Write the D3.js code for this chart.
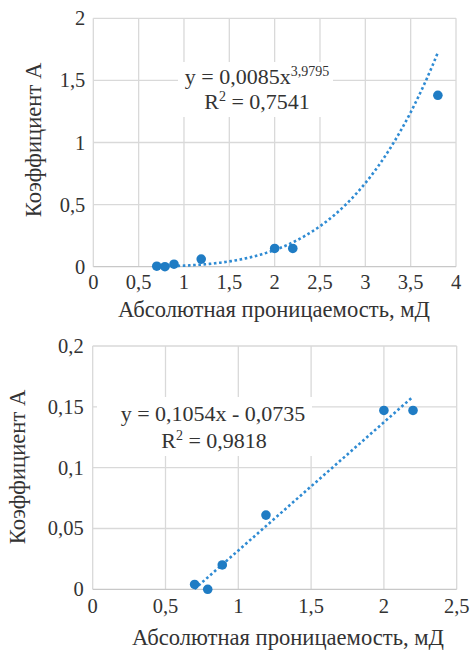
<!DOCTYPE html>
<html><head><meta charset="utf-8">
<script src="https://cdn.jsdelivr.net/npm/d3@7"></script>
</head>
<body style="margin:0"><svg id="c" width="472" height="651"></svg>
<script>
// ---- data ----
const permeability = [0.7, 0.79, 0.89, 1.19, 2.0, 2.2, 3.8];
const coefA        = [0.004, 0.0, 0.02, 0.061, 0.147, 0.147, 1.38];
const topXTicks = [0, 0.5, 1, 1.5, 2, 2.5, 3, 3.5, 4];
const topYTicks = [0, 0.5, 1, 1.5, 2];
const botXTicks = [0, 0.5, 1, 1.5, 2, 2.5];
const botYTicks = [0, 0.05, 0.1, 0.15, 0.2];
const powerFit = {a: 0.0085, b: 3.9795, r2: "0,7541"};
const linFit = {k: 0.1054, c: -0.0735, r2: "0,9818"};
const xTitle = "Абсолютная проницаемость, мД";
const yTitle = "Коэффициент А";

const loc = d3.formatLocale({decimal: ",", thousands: " ", grouping: [3], currency: ["", ""]});
const fmt = v => loc.format("~g")(v);

const svg = d3.select("#c");
const POINT = "#1f7cc4", TREND = "#2f8bd3", GRID = "#d9d9d9", TXT = "#333";
const FONT = "Times New Roman";

function txt(sel) { return sel.append("text").style("font-family", FONT).attr("fill", TXT); }

function chart(o) {
  const g = svg.append("g");
  const x = d3.scaleLinear().domain(o.xd).range([o.l, o.r]);
  const y = d3.scaleLinear().domain(o.yd).range([o.b, o.t]);
  g.append("g").selectAll("line").data(o.xt).join("line")
    .attr("x1", d => x(d)).attr("x2", d => x(d)).attr("y1", o.t).attr("y2", o.b)
    .attr("stroke", GRID).attr("stroke-width", 1.3);
  g.append("g").selectAll("line").data(o.yt).join("line")
    .attr("y1", d => y(d)).attr("y2", d => y(d)).attr("x1", o.l).attr("x2", o.r)
    .attr("stroke", d => d === 0 ? "#c8c8c8" : GRID).attr("stroke-width", 1.3);
  o.xt.forEach(d => txt(g).attr("x", x(d)).attr("y", o.b + o.xlab).attr("text-anchor", "middle")
    .attr("font-size", 20.5).text(fmt(d)));
  o.yt.forEach(d => txt(g).attr("x", o.l - o.ylab).attr("y", y(d) + 7).attr("text-anchor", "end")
    .attr("font-size", 20.5).text(fmt(d)));
  txt(g).attr("x", o.xtx).attr("y", o.xty).attr("text-anchor", "middle")
    .attr("font-size", 22.6).text(xTitle);
  txt(g).attr("transform", `translate(${o.ytx},${o.yty}) rotate(-90)`)
    .attr("text-anchor", "middle").attr("font-size", 22.6).text(yTitle);
  g.append("rect").attr("x", o.box[0]).attr("y", o.box[1]).attr("width", o.box[2]).attr("height", o.box[3]).attr("fill", "#fff");
  const line = d3.line().x(d => x(d[0])).y(d => y(d[1]));
  g.append("path").attr("d", line(o.trend)).attr("fill", "none").attr("stroke", TREND)
    .attr("stroke-width", 2.6).attr("stroke-dasharray", "2.6 2.6");
  g.append("g").selectAll("circle").data(o.pts).join("circle")
    .attr("cx", d => x(d[0])).attr("cy", d => y(d[1])).attr("r", 4.8).attr("fill", POINT);
  return {g, x, y};
}

// top chart: power trend
const ptsTop = permeability.map((p, i) => [p, coefA[i]]);
const xMin = d3.min(permeability), xMax = d3.max(permeability);
const powTrend = d3.range(xMin, xMax, 0.02).concat([xMax]).map(v => [v, powerFit.a * Math.pow(v, powerFit.b)]);
const chartTop = chart({xd: [0, 4], yd: [0, 2], l: 93.3, r: 456, t: 18.3, b: 266.7,
  xt: topXTicks, yt: topYTicks, xlab: 22, ylab: 8,
  xtx: 274, xty: 317, ytx: 41, yty: 140,
  box: [178, 62, 155, 55], trend: powTrend, pts: ptsTop});
const t1 = txt(chartTop.g).attr("x", 257).attr("y", 84).attr("text-anchor", "middle").attr("font-size", 22);
t1.append("tspan").text("y = 0,0085x");
t1.append("tspan").attr("dy", -8).attr("font-size", 14).text("3,9795");
const t2 = txt(chartTop.g).attr("x", 257).attr("y", 109).attr("text-anchor", "middle").attr("font-size", 22);
t2.append("tspan").text("R");
t2.append("tspan").attr("dy", -8).attr("font-size", 14).text("2");
t2.append("tspan").attr("dy", 8).text(" = " + powerFit.r2);

// bottom chart: linear trend (points with x <= 2.5)
const ptsBot = ptsTop.filter(d => d[0] <= 2.5);
const bMax = d3.max(ptsBot, d => d[0]);
const linTrend = [xMin, bMax].map(v => [v, linFit.k * v + linFit.c]);
const chartBot = chart({xd: [0, 2.5], yd: [0, 0.2], l: 92.7, r: 456.7, t: 346, b: 589.3,
  xt: botXTicks, yt: botYTicks, xlab: 24, ylab: 9,
  xtx: 288, xty: 645, ytx: 25, yty: 467,
  box: [97, 397, 215, 59], trend: linTrend, pts: ptsBot});
txt(chartBot.g).attr("x", 213).attr("y", 421).attr("text-anchor", "middle").attr("font-size", 22)
  .text("y = 0,1054x - 0,0735");
const t3 = txt(chartBot.g).attr("x", 214).attr("y", 448).attr("text-anchor", "middle").attr("font-size", 22);
t3.append("tspan").text("R");
t3.append("tspan").attr("dy", -8).attr("font-size", 14).text("2");
t3.append("tspan").attr("dy", 8).text(" = " + linFit.r2);
</script></body></html>
